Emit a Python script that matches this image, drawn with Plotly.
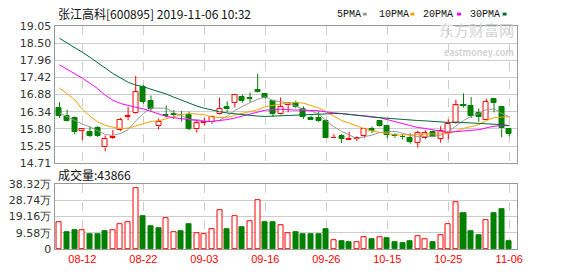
import plotly.graph_objects as go

# ---------------- data ----------------
dates = [
    "2019-08-07", "2019-08-08", "2019-08-09", "2019-08-12", "2019-08-13", "2019-08-14", "2019-08-15",
    "2019-08-16", "2019-08-19", "2019-08-20", "2019-08-21", "2019-08-22", "2019-08-23", "2019-08-26",
    "2019-08-27", "2019-08-28", "2019-08-29", "2019-08-30", "2019-09-02", "2019-09-03", "2019-09-04",
    "2019-09-05", "2019-09-06", "2019-09-09", "2019-09-10", "2019-09-11", "2019-09-12", "2019-09-16",
    "2019-09-17", "2019-09-18", "2019-09-19", "2019-09-20", "2019-09-23", "2019-09-24", "2019-09-25",
    "2019-09-26", "2019-09-27", "2019-09-30", "2019-10-08", "2019-10-09", "2019-10-10", "2019-10-11",
    "2019-10-14", "2019-10-15", "2019-10-16", "2019-10-17", "2019-10-18", "2019-10-21", "2019-10-22",
    "2019-10-23", "2019-10-24", "2019-10-25", "2019-10-28", "2019-10-29", "2019-10-30", "2019-10-31",
    "2019-11-01", "2019-11-04", "2019-11-05", "2019-11-06",
]
opens = [16.45, 16.21, 16.15, 15.73, 15.71, 15.83, 15.21, 15.52, 15.76, 16.17,
         16.30, 17.13, 16.69, 15.88, 16.25, 16.27, 16.25, 16.25, 15.78, 15.98,
         16.01, 16.27, 16.49, 16.63, 16.82, 16.77, 17.02, 16.91, 16.69, 16.27,
         16.55, 16.62, 16.42, 16.15, 16.15, 16.05, 15.50, 15.56, 15.46, 15.49,
         15.56, 15.80, 16.03, 15.90, 15.60, 15.55, 15.52, 15.36, 15.51, 15.69,
         15.48, 15.66, 15.97, 16.55, 16.52, 16.29, 16.07, 16.74, 16.49, 15.79]
highs = [16.64, 16.40, 16.19, 15.81, 15.87, 15.88, 15.59, 15.76, 16.15, 16.49,
         17.47, 17.19, 16.85, 16.12, 16.54, 16.39, 16.36, 16.34, 16.09, 16.15,
         16.22, 16.79, 16.67, 16.89, 16.87, 16.95, 17.54, 16.92, 16.72, 16.79,
         16.64, 16.69, 16.51, 16.21, 16.35, 16.09, 15.63, 15.63, 15.70, 15.56,
         15.83, 15.87, 16.07, 15.91, 15.66, 15.63, 15.66, 15.74, 15.76, 15.74,
         15.88, 16.10, 16.72, 16.92, 16.80, 16.44, 16.75, 16.77, 16.52, 15.83]
lows = [16.14, 16.03, 15.62, 15.44, 15.54, 15.54, 15.09, 15.48, 15.73, 16.07,
        16.28, 16.59, 16.37, 15.78, 16.15, 16.11, 16.03, 15.76, 15.68, 15.90,
        15.95, 16.25, 16.32, 16.47, 16.62, 16.63, 16.95, 16.75, 16.17, 16.25,
        16.32, 16.45, 16.11, 16.07, 16.01, 15.50, 15.50, 15.35, 15.46, 15.41,
        15.51, 15.66, 15.87, 15.50, 15.51, 15.46, 15.33, 15.21, 15.48, 15.54,
        15.36, 15.46, 15.95, 16.47, 16.14, 16.02, 16.07, 16.32, 15.53, 15.56]
closes = [16.20, 16.05, 15.69, 15.79, 15.58, 15.57, 15.48, 15.54, 16.07, 16.19,
          16.97, 16.65, 16.44, 16.01, 16.19, 16.25, 16.23, 15.79, 15.97, 16.00,
          16.17, 16.44, 16.41, 16.87, 16.67, 16.75, 16.97, 16.77, 16.27, 16.49,
          16.60, 16.49, 16.17, 16.07, 16.04, 15.50, 15.51, 15.49, 15.47, 15.50,
          15.79, 15.74, 15.89, 15.60, 15.56, 15.53, 15.38, 15.66, 15.68, 15.54,
          15.74, 15.95, 16.54, 16.52, 16.20, 16.18, 16.64, 16.62, 15.81, 15.64]
prev_close = 16.10  # close of the day before the first bar (estimated)
volumes = [156000, 101000, 113000, 111000, 85000, 90000, 107000, 111000, 147000, 156000,
           361000, 192000, 135000, 124000, 184000, 101000, 107000, 147000, 94000, 90000,
           116000, 229000, 118000, 195000, 130000, 162000, 291000, 158000, 158000, 139000,
           94000, 101000, 90000, 85000, 90000, 118000, 51000, 45000, 39000, 38000,
           71000, 56000, 71000, 62000, 39000, 34000, 45000, 77000, 56000, 39000,
           83000, 147000, 274000, 214000, 107000, 79000, 173000, 214000, 237000, 43866]
ma5 = [16.30, 16.18, 16.05, 15.95, 15.86, 15.74, 15.62, 15.59, 15.65, 15.77,
       16.05, 16.28, 16.46, 16.45, 16.45, 16.31, 16.22, 16.09, 16.09, 16.05,
       16.03, 16.07, 16.20, 16.38, 16.51, 16.63, 16.73, 16.81, 16.69, 16.65,
       16.62, 16.52, 16.40, 16.36, 16.27, 16.05, 15.86, 15.72, 15.60, 15.49,
       15.55, 15.60, 15.68, 15.70, 15.72, 15.66, 15.59, 15.55, 15.56, 15.56,
       15.60, 15.71, 15.89, 16.06, 16.19, 16.28, 16.41, 16.43, 16.29, 16.18]
ma10 = [17.09, 16.90, 16.72, 16.42, 16.20, 16.02, 15.91, 15.85, 15.81, 15.82,
        15.89, 15.95, 16.03, 16.05, 16.11, 16.18, 16.25, 16.28, 16.27, 16.25,
        16.17, 16.15, 16.15, 16.23, 16.28, 16.33, 16.40, 16.50, 16.53, 16.58,
        16.62, 16.63, 16.61, 16.53, 16.46, 16.34, 16.19, 16.06, 15.98, 15.88,
        15.80, 15.73, 15.70, 15.65, 15.61, 15.61, 15.60, 15.61, 15.63, 15.64,
        15.63, 15.65, 15.72, 15.81, 15.87, 15.93, 16.06, 16.15, 16.17, 16.18]
ma20 = [17.82, 17.68, 17.55, 17.40, 17.24, 17.07, 16.86, 16.70, 16.60, 16.53,
        16.48, 16.43, 16.35, 16.26, 16.19, 16.15, 16.12, 16.08, 16.05, 16.03,
        16.03, 16.05, 16.09, 16.14, 16.20, 16.25, 16.33, 16.39, 16.40, 16.42,
        16.40, 16.39, 16.38, 16.38, 16.37, 16.33, 16.30, 16.28, 16.26, 16.23,
        16.21, 16.18, 16.15, 16.09, 16.03, 15.97, 15.89, 15.84, 15.81, 15.76,
        15.72, 15.69, 15.71, 15.73, 15.74, 15.77, 15.83, 15.88, 15.90, 15.90]
ma30 = [18.66, 18.52, 18.38, 18.22, 18.06, 17.90, 17.72, 17.55, 17.41, 17.27,
        17.18, 17.13, 17.05, 16.98, 16.90, 16.80, 16.70, 16.60, 16.52, 16.45,
        16.39, 16.34, 16.30, 16.27, 16.24, 16.22, 16.20, 16.19, 16.20, 16.22,
        16.23, 16.24, 16.26, 16.27, 16.28, 16.28, 16.28, 16.28, 16.26, 16.24,
        16.20, 16.17, 16.15, 16.14, 16.12, 16.09, 16.06, 16.06, 16.05, 16.03,
        16.02, 16.00, 16.01, 16.00, 15.98, 15.96, 15.95, 15.95, 15.93, 15.90]

price_ticks = [19.05, 18.5075, 17.965, 17.4225, 16.88, 16.3375, 15.795, 15.2525, 14.71]
price_labels = ["19.05", "18.50", "17.96", "17.42", "16.88", "16.34", "15.80", "15.25", "14.71"]
vol_ticks = [0, 95800, 191600, 287400, 383200]
vol_labels = ["0", "9.58万", "19.16万", "28.74万", "38.32万"]
date_ticks = ["2019-08-12", "2019-08-22", "2019-09-03", "2019-09-16",
              "2019-09-26", "2019-10-15", "2019-10-25", "2019-11-06"]
date_labels = ["08-12", "08-22", "09-03", "09-16", "09-26", "10-15", "10-25", "11-06"]

title_text = "张江高科[600895] 2019-11-06 10:32"
vol_title = "成交量:43866"
ma_names = ["5PMA", "10PMA", "20PMA", "30PMA"]
ma_colors = ["#999999", "#f5a300", "#ff00ff", "#006a35"]

RED = "#ff0000"
GREEN = "#008000"

# ---------------- geometry helpers (pixels -> paper) ----------------
W, H = 578, 276
def px(x):
    return x / W
def py(y):
    return 1 - y / H

X0, X1 = 55, 522
MAIN_T, MAIN_B = 21, 165
VOL_T, VOL_B = 187, 255

n = len(dates)
idx = list(range(n))
up = [i for i in idx if closes[i] > opens[i]]
dn = [i for i in idx if closes[i] <= opens[i]]

fig = go.Figure()

# candle bodies
BW = 0.66
fig.add_trace(go.Bar(
    x=up, base=[opens[i] for i in up], y=[closes[i] - opens[i] for i in up],
    width=BW, marker=dict(color="white", line=dict(color=RED, width=1)),
    xaxis="x", yaxis="y", showlegend=False, hoverinfo="skip"))
fig.add_trace(go.Bar(
    x=dn, base=[closes[i] for i in dn], y=[max(opens[i] - closes[i], 0.004) for i in dn],
    width=BW, marker=dict(color=GREEN, line=dict(color=GREEN, width=1)),
    xaxis="x", yaxis="y", showlegend=False, hoverinfo="skip"))

# wicks
def wicks(sel):
    xs, ys = [], []
    for i in sel:
        top = max(opens[i], closes[i])
        bot = min(opens[i], closes[i])
        xs += [i, i, None, i, i, None]
        ys += [highs[i], top, None, bot, lows[i], None]
    return xs, ys

for sel, col in ((up, RED), (dn, GREEN)):
    wx, wy = wicks(sel)
    fig.add_trace(go.Scatter(x=wx, y=wy, mode="lines", line=dict(color=col, width=1),
                             xaxis="x", yaxis="y", showlegend=False, hoverinfo="skip"))

# moving averages
for vals, col in zip([ma5, ma10, ma20, ma30], ma_colors):
    fig.add_trace(go.Scatter(x=idx, y=vals, mode="lines", line=dict(color=col, width=1),
                             xaxis="x", yaxis="y", showlegend=False, hoverinfo="skip"))

# volume
pc = [prev_close] + closes[:-1]
vup = [i for i in idx if closes[i] > pc[i]]
vdn = [i for i in idx if closes[i] <= pc[i]]
fig.add_trace(go.Bar(x=vup, y=[volumes[i] for i in vup], width=BW,
                     marker=dict(color="white", line=dict(color=RED, width=1)),
                     xaxis="x2", yaxis="y2", showlegend=False, hoverinfo="skip"))
fig.add_trace(go.Bar(x=vdn, y=[volumes[i] for i in vdn], width=BW,
                     marker=dict(color=GREEN, line=dict(color=GREEN, width=1)),
                     xaxis="x2", yaxis="y2", showlegend=False, hoverinfo="skip"))

tick_idx = [dates.index(d) for d in date_ticks]
bar_px = 7.69
xr = [-(60 - X0) / bar_px, -(60 - X0) / bar_px + (X1 - X0) / bar_px]

axis_font = dict(family="DejaVu Sans", size=11, color="#333333")
common_x = dict(domain=[px(X0), px(X1)], range=xr, tickvals=tick_idx, ticktext=date_labels,
                showgrid=True, gridcolor="#cccccc", griddash="dash", gridwidth=1,
                showline=True, linecolor="#999999", linewidth=1, mirror=True,
                zeroline=False, ticks="", fixedrange=True)

fig.update_layout(
    width=W, height=H, margin=dict(l=0, r=0, t=0, b=0),
    paper_bgcolor="white", plot_bgcolor="white", barmode="overlay", bargap=0,
    xaxis=dict(**common_x, anchor="y", showticklabels=False),
    xaxis2=dict(**common_x, anchor="y2", showticklabels=True,
                tickfont=dict(family="Liberation Sans", size=11, color=RED)),
    yaxis=dict(domain=[py(MAIN_B), py(MAIN_T)], range=[14.71, 19.05],
               tickvals=price_ticks, ticktext=price_labels, tickfont=axis_font,
               showgrid=True, gridcolor="#cccccc", gridwidth=1, zeroline=False,
               showline=True, linecolor="#999999", mirror=True, ticks="", anchor="x"),
    yaxis2=dict(domain=[py(VOL_B), py(VOL_T)], range=[0, 383200],
                tickvals=vol_ticks, ticktext=vol_labels, tickfont=axis_font,
                showgrid=True, gridcolor="#cccccc", gridwidth=1, zeroline=False,
                showline=True, linecolor="#999999", mirror=True, ticks="", anchor="x2"),
)

ann = []
ann.append(dict(x=px(56), y=py(8), xref="paper", yref="paper", xanchor="left", yanchor="middle",
                text=title_text, showarrow=False,
                font=dict(family="Noto Sans CJK SC", size=12, color="#111111")))
ann.append(dict(x=px(56), y=py(177), xref="paper", yref="paper", xanchor="left", yanchor="middle",
                text=vol_title, showarrow=False,
                font=dict(family="Noto Sans CJK SC", size=12, color="#111111")))
# legend
leg_text_x = [338, 380, 425, 472]
leg_box_x = [366, 414, 461, 507]
shapes = []
for name, col, tx, bx in zip(ma_names, ma_colors, leg_text_x, leg_box_x):
    ann.append(dict(x=px(tx), y=py(9), xref="paper", yref="paper", xanchor="left", yanchor="middle",
                    text=name, showarrow=False,
                    font=dict(family="Liberation Mono", size=10, color="#111111")))
    shapes.append(dict(type="rect", xref="paper", yref="paper",
                       x0=px(bx), x1=px(bx + 4), y0=py(10), y1=py(7),
                       fillcolor=col, line=dict(width=0)))
# watermark (single text block)
ann.append(dict(x=px(521), y=py(35), xref="paper", yref="paper", xanchor="right", yanchor="middle",
                text="东方财富网<br><span style='font-size:9px'><b>eastmoney.com</b></span>",
                align="right", showarrow=False,
                font=dict(family="Noto Sans CJK SC", size=15, color="#d4d4d4")))

fig.update_layout(annotations=ann, shapes=shapes)
fig.write_html("out.html")
